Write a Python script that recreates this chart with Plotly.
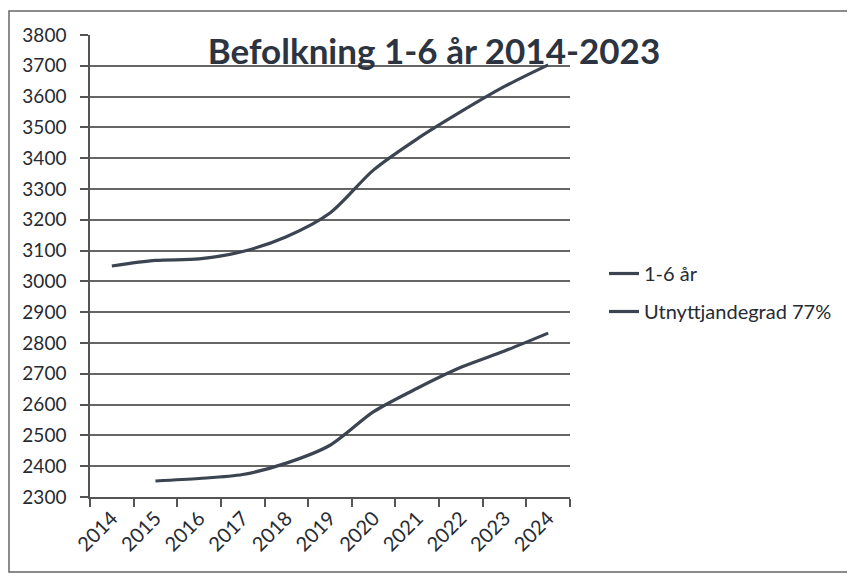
import plotly.graph_objects as go

years = ["2014", "2015", "2016", "2017", "2018", "2019", "2020", "2021", "2022", "2023", "2024"]
pop_1_6 = [3050, 3068, 3073, 3097, 3145, 3222, 3362, 3463, 3551, 3633, 3703]
years_util = ["2015", "2016", "2017", "2018", "2019", "2020", "2021", "2022", "2023", "2024"]
util_77 = [2352, 2360, 2373, 2410, 2468, 2577, 2653, 2721, 2774, 2832]
y_ticks = list(range(2300, 3801, 100))

line_col = "#3b4450"
text_col = "#262b33"
font_fam = "Lato, 'Open Sans', sans-serif"

# page body has an 8px margin, so work in screen coords minus 8
O = 8
W, H = 855 - O, 576 - O
L, R, T, B = 90 - O, 570 - O, 35 - O, 497 - O
pw, ph = R - L, B - T

def px(sx):
    return (sx - O - L) / pw

def py(sy):
    return (B - (sy - O)) / ph

fig = go.Figure()
fig.add_trace(go.Scatter(x=years, y=pop_1_6, mode="lines", name="1-6 år", legendgroup="a",
                         line=dict(color=line_col, width=3.2, shape="spline", smoothing=0.8)))
fig.add_trace(go.Scatter(x=years_util, y=util_77, mode="lines", name="Utnyttjandegrad 77%",
                         legendgroup="b",
                         line=dict(color=line_col, width=3.2, shape="spline", smoothing=0.8)))

fig.update_layout(
    width=W, height=H,
    margin=dict(l=L, r=W - R, t=T, b=H - B, pad=0),
    paper_bgcolor="white", plot_bgcolor="white",
    font=dict(family=font_fam, color=text_col, size=17),
    showlegend=True,
    legend=dict(x=px(604), y=py(254), xanchor="left", yanchor="top",
                font=dict(size=20, color=text_col), tracegroupgap=9,
                itemwidth=30, bgcolor="rgba(0,0,0,0)"),
    title=dict(text="<b>Befolkning 1-6 år 2014-2023</b>",
               x=(434 - O) / W, xanchor="center", y=1 - (52 - O) / H, yanchor="middle",
               font=dict(size=35, color="#2b3440", family=font_fam)),
    xaxis=dict(type="category", categoryorder="array", categoryarray=years,
               range=[-0.5, 10.5], tickson="boundaries", ticks="outside", ticklen=8,
               tickcolor="#555", tickwidth=1.5, showgrid=False, showline=True,
               linecolor="#555", linewidth=1.5, tickangle=-45,
               tickfont=dict(size=20, color=text_col), zeroline=False),
    yaxis=dict(range=[2300, 3800], tickvals=y_ticks, ticks="outside", ticklen=8,
               tickcolor="#555", tickwidth=1.5, showgrid=True, gridcolor="#666",
               gridwidth=1.5, showline=True, linecolor="#555", linewidth=1.5,
               tickfont=dict(size=19, color=text_col), zeroline=False, ticklabelstandoff=10),
)

fig.add_shape(type="rect", xref="paper", yref="paper",
              x0=px(9), x1=px(851),
              y0=py(572), y1=py(11),
              line=dict(color="#666", width=1.5), layer="below")

fig.write_html("out.html")
